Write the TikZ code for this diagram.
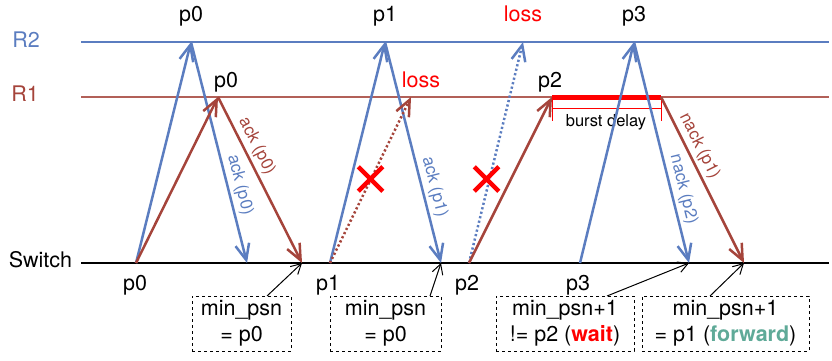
\documentclass[tikz,border=0pt]{standalone}
\usepackage{fontspec}
\setmainfont{TeX Gyre Heros}
\usetikzlibrary{arrows.meta,shapes.misc}
\definecolor{cblue}{HTML}{5B7DC0}
\definecolor{cred}{HTML}{A5443B}
\definecolor{cteal}{HTML}{5FAA98}
\definecolor{lossred}{HTML}{FF0000}
\begin{document}
\begin{tikzpicture}[x=1pt,y=-1pt,
  big/.style={font=\fontsize{21.5}{26}\selectfont},
  small/.style={font=\fontsize{17}{20}\selectfont},
  lbl/.style={big,inner sep=0pt,anchor=base},
  tl/.style={line width=2.5pt},
  arr/.style={tl,-{Straight Barb[length=16pt,width=14pt,line width=2.5pt]}},
  dotl/.style={arr,dash pattern=on 2.2pt off 2.4pt},
  ptr/.style={line width=1pt,-{Straight Barb[length=10pt,width=11pt,line width=1pt]}},
  box/.style={draw,dashed,line width=1pt,big,align=center,minimum height=55pt,inner sep=0pt},
  cross/.style={draw=lossred,cross out,line width=4.5pt,minimum size=20pt,inner sep=0pt},
  ackl/.style={small,sloped,above,inner sep=3pt}
]
\useasboundingbox (0,0) rectangle (832,361);
% timelines
\coordinate (r2s) at (81,42); \coordinate (r2e) at (829,42);
\coordinate (r1s) at (81,97); \coordinate (r1e) at (829,97);
\coordinate (sws) at (81,263); \coordinate (swe) at (829,263);
\draw[cblue,line width=2.5pt] (r2s) -- (r2e);
\draw[cred!85,line width=2.5pt] (r1s) -- (r1e);
\draw[black,line width=2.5pt] (sws) -- (swe);
\node[lbl,cblue] (lR2) at (26,48) {R2};
\node[lbl,cred] (lR1) at (25,101) {R1};
\node[lbl] (lsw) at (40.5,267) {Switch};
% event points
\coordinate (s0) at (136,263); \coordinate (a0) at (191,42); \coordinate (b0) at (218,97);
\coordinate (e0) at (247,263); \coordinate (f0) at (302,263);
\coordinate (s1) at (330,263); \coordinate (a1) at (385,42); \coordinate (b1) at (411,97);
\coordinate (e1) at (441,263);
\coordinate (s2) at (469,263); \coordinate (a2) at (523,42); \coordinate (b2) at (552,97);
\coordinate (s3) at (580,263); \coordinate (a3) at (634,42); \coordinate (c3) at (661,97);
\coordinate (e3) at (689,263); \coordinate (f3) at (744,263);
% group p0
\draw[arr,cblue] (s0) -- (a0);
\draw[arr,cblue] (a0) -- node[ackl,pos=0.66,cblue] (lack0b) {ack (p0)} (e0);
\draw[arr,cred] (s0) -- (b0);
\draw[arr,cred] (b0) -- node[ackl,pos=0.33,cred] (lack0r) {ack (p0)} (f0);
% group p1
\draw[arr,cblue] (s1) -- (a1);
\draw[arr,cblue] (a1) -- node[ackl,pos=0.67,cblue] (lack1b) {ack (p1)} (e1);
\draw[dotl,cred] (s1) -- (b1);
\node[cross] (x1) at (370.5,179) {};
% group p2
\draw[dotl,cblue] (s2) -- (a2);
\draw[arr,cred] (s2) -- (b2);
\node[cross] (x2) at (486.5,179) {};
% burst delay
\draw[lossred,line width=5pt] (b2) -- (c3);
\coordinate (bd1) at (552,97); \coordinate (bd2) at (552,121);
\coordinate (bd3) at (661,97); \coordinate (bd4) at (661,121);
\coordinate (bh1) at (552,108); \coordinate (bh2) at (661,108);
\draw[lossred,line width=1pt] (bd1) -- (bd2) (bd3) -- (bd4) (bh1) -- (bh2);
\node[font=\fontsize{16.5}{20}\selectfont,inner sep=0pt,anchor=base] (lbd) at (606,126) {burst delay};
% group p3
\draw[arr,cblue] (s3) -- (a3);
\draw[arr,cblue] (a3) -- node[ackl,pos=0.68,cblue] (lnack2) {nack (p2)} (e3);
\draw[arr,cred] (c3) -- node[ackl,pos=0.33,cred] (lnack1) {nack (p1)} (f3);
% labels top
\node[lbl] (t0) at (191,22) {p0};
\node[lbl] (t1) at (385,22) {p1};
\node[lbl,lossred] (t2) at (523,22) {loss};
\node[lbl] (t3) at (634,22) {p3};
\node[lbl] (m0) at (226,87) {p0};
\node[lbl,lossred] (m1) at (421,87) {loss};
\node[lbl] (m2) at (550,87) {p2};
\node[lbl] (u0) at (135,290) {p0};
\node[lbl] (u1) at (328,290) {p1};
\node[lbl] (u2) at (467,290) {p2};
\node[lbl] (u3) at (578,290) {p3};
% boxes
\node[box,minimum width=99pt] (box1) at (241.5,323.5) {min\_psn\\= p0};
\node[box,minimum width=111pt] (box2) at (385.5,323.5) {min\_psn\\= p0};
\node[box,minimum width=138pt] (box3) at (565,323.5) {min\_psn+1\\!= p2 ({\bfseries\color{lossred}wait})};
\node[box,minimum width=167pt] (box4) at (725.5,323.5) {min\_psn+1\\= p1 ({\bfseries\color{cteal}forward})};
\coordinate (p1) at (267,296); \coordinate (p2) at (430,296);
\coordinate (p3) at (607,296); \coordinate (p4) at (710,296);
\draw[ptr] (p1) -- (f0);
\draw[ptr] (p2) -- (e1);
\draw[ptr] (p3) -- (e3);
\draw[ptr] (p4) -- (f3);
\end{tikzpicture}
\end{document}
